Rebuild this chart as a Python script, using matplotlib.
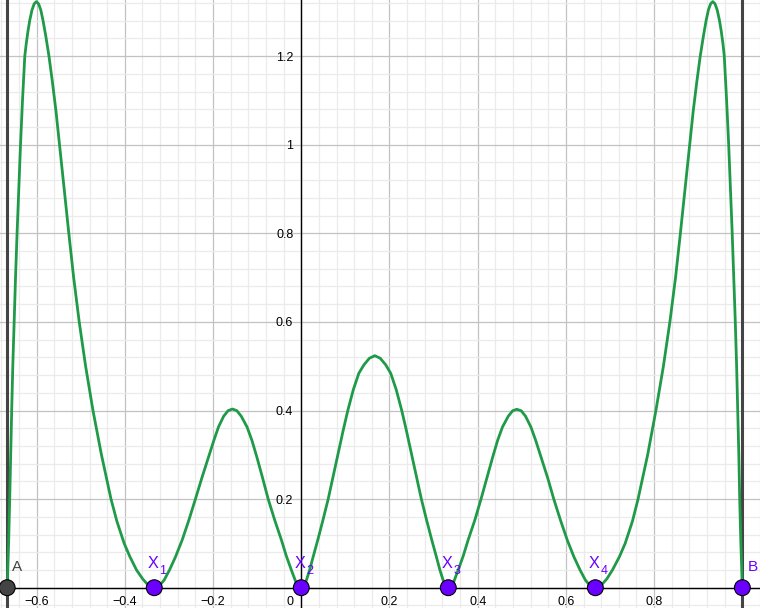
import numpy as np
import matplotlib.pyplot as plt

plt.rcParams['font.family'] = ['Liberation Sans', 'DejaVu Sans']

# points on the graph (one list per arch)
arch_a_x = [-0.6667, -0.6650, -0.6635, -0.6610, -0.6588, -0.6565, -0.6540, -0.6510, -0.6478, -0.6443,
            -0.6405, -0.6365, -0.6320, -0.6268, -0.6235, -0.6195, -0.6155, -0.6105, -0.6055, -0.6005,
            -0.5955, -0.5905, -0.5856, -0.5795, -0.5720, -0.5645, -0.5560, -0.5480, -0.5375, -0.5270,
            -0.5160, -0.5034, -0.4889, -0.4722, -0.4530, -0.4313, -0.4180, -0.4015, -0.3885, -0.3735,
            -0.3597, -0.3463, -0.3333]
arch_a_y = [0.0, 0.05, 0.10, 0.20, 0.30, 0.40, 0.50, 0.60, 0.70, 0.80,
            0.90, 1.00, 1.10, 1.20, 1.228, 1.257, 1.281, 1.304, 1.318, 1.323,
            1.318, 1.304, 1.281, 1.247, 1.20, 1.144, 1.075, 1.00, 0.90, 0.80,
            0.70, 0.60, 0.50, 0.40, 0.30, 0.20, 0.15, 0.10, 0.07, 0.04,
            0.02, 0.005, 0.0]

arch_1_x = [-0.3333, -0.322, -0.311, -0.2987, -0.285, -0.270, -0.255, -0.240, -0.225, -0.210,
            -0.198, -0.1876, -0.176, -0.166, -0.156, -0.146, -0.136, -0.123, -0.112, -0.101,
            -0.088, -0.075, -0.060, -0.045, -0.034, -0.0225, -0.011, -0.005, 0.0]
arch_1_y = [0.0, 0.004, 0.017, 0.04, 0.07, 0.1077, 0.152, 0.20, 0.249, 0.296,
            0.333, 0.363, 0.387, 0.3995, 0.4034, 0.3995, 0.387, 0.363, 0.333, 0.296,
            0.249, 0.20, 0.152, 0.1077, 0.072, 0.04, 0.0096, 0.002, 0.0]

arch_2_x = [0.0, 0.006, 0.012, 0.019, 0.027, 0.0375, 0.049, 0.061, 0.072, 0.0835,
            0.095, 0.1055, 0.118, 0.1305, 0.142, 0.1545, 0.1667, 0.179, 0.1915, 0.2028,
            0.2153, 0.2278, 0.2383, 0.2498, 0.2613, 0.2723, 0.2843, 0.2958, 0.3063, 0.3143,
            0.3213, 0.3273, 0.3333]
arch_2_y = [0.0, 0.005, 0.018, 0.04, 0.07, 0.108, 0.152, 0.20, 0.25, 0.303,
            0.355, 0.40, 0.447, 0.484, 0.503, 0.518, 0.5237, 0.518, 0.503, 0.484,
            0.447, 0.40, 0.355, 0.303, 0.25, 0.20, 0.152, 0.108, 0.07, 0.04,
            0.018, 0.005, 0.0]

arch_3_x = [0.3333, 0.3383, 0.3443, 0.3558, 0.3673, 0.3783, 0.3933, 0.4075, 0.4213, 0.4343,
            0.4453, 0.4563, 0.4693, 0.4793, 0.4885, 0.4985, 0.5085, 0.5205, 0.5313, 0.5433,
            0.5583, 0.5725, 0.5878, 0.6030, 0.6180, 0.6320, 0.6443, 0.6553, 0.6667]
arch_3_y = [0.0, 0.002, 0.0096, 0.04, 0.072, 0.1077, 0.152, 0.20, 0.249, 0.296,
            0.333, 0.363, 0.387, 0.3995, 0.4027, 0.3995, 0.387, 0.363, 0.333, 0.296,
            0.249, 0.20, 0.152, 0.1077, 0.07, 0.04, 0.017, 0.004, 0.0]

arch_b_x = [0.6667, 0.6796, 0.6928, 0.7055, 0.7213, 0.7343, 0.7508, 0.7635, 0.7853, 0.8040,
            0.8210, 0.8357, 0.8485, 0.8595, 0.8700, 0.8805, 0.8885, 0.8970, 0.9045, 0.9120,
            0.9180, 0.9230, 0.9280, 0.9330, 0.9380, 0.9430, 0.9480, 0.9520, 0.9560, 0.9590,
            0.9643, 0.9690, 0.9730, 0.9770, 0.9806, 0.9840, 0.9870, 0.9896, 0.9920, 0.9940,
            0.9966, 0.9982, 1.0]
arch_b_y = [0.0, 0.005, 0.02, 0.04, 0.07, 0.10, 0.15, 0.20, 0.30, 0.40,
            0.50, 0.60, 0.70, 0.80, 0.90, 1.00, 1.075, 1.144, 1.20, 1.247,
            1.281, 1.304, 1.318, 1.323, 1.318, 1.304, 1.281, 1.257, 1.228, 1.20,
            1.10, 1.00, 0.90, 0.80, 0.70, 0.60, 0.50, 0.40, 0.30, 0.20,
            0.10, 0.05, 0.0]

point_names = ['A', 'X', 'X', 'X', 'X', 'B']
point_subs = ['', '1', '2', '3', '4', '']
point_x = [-0.6667, -0.3333, 0.0, 0.3333, 0.6667, 1.0]

x_tick_vals = [-0.6, -0.4, -0.2, 0, 0.2, 0.4, 0.6, 0.8]
y_tick_vals = [0.2, 0.4, 0.6, 0.8, 1.0, 1.2]

purple = '#6a00ff'
grey = '#444444'
green = '#1f9a48'

curve_x = arch_a_x + arch_1_x[1:] + arch_2_x[1:] + arch_3_x[1:] + arch_b_x[1:]
curve_y = arch_a_y + arch_1_y[1:] + arch_2_y[1:] + arch_3_y[1:] + arch_b_y[1:]

fig = plt.figure(figsize=(7.6, 6.08), dpi=100)
ax = fig.add_axes([0, 0, 1, 1])
ax.set_xlim(-0.683, 1.0286)
ax.set_ylim(-0.0458, 1.3266)
for s in ax.spines.values():
    s.set_visible(False)

ax.set_xticks(np.arange(-0.6, 1.01, 0.2))
ax.set_xticks(np.arange(-0.68, 1.05, 0.04), minor=True)
ax.set_yticks(np.arange(0, 1.3, 0.2))
ax.set_yticks(np.arange(-0.04, 1.34, 0.04), minor=True)
ax.tick_params(which='both', length=0, labelbottom=False, labelleft=False)
ax.grid(which='minor', color='#ebebeb', lw=0.9)
ax.grid(which='major', color='#c2c2c2', lw=0.9)
ax.set_axisbelow(True)

ax.axhline(0, color='black', lw=1.0, zorder=2)
ax.axvline(0, color='black', lw=1.0, zorder=2)

# vertical lines through A and B
ax.axvline(point_x[0], color=grey, lw=2.2, zorder=3)
ax.axvline(point_x[-1], color=grey, lw=2.2, zorder=3)

ax.plot(curve_x, curve_y, color=green, lw=2.0, zorder=4,
        solid_joinstyle='round', solid_capstyle='round')

colors = [grey] + [purple] * 5
ax.scatter(point_x, [0] * len(point_x), s=130, c=colors, edgecolors='black',
           linewidths=0.8, zorder=5)

for i, x in enumerate(point_x):
    name, sub = point_names[i], point_subs[i]
    if sub == '':
        ax.annotate(name, (x, 0), xytext=(5, 17), textcoords='offset pixels',
                    color=colors[i], fontsize=11, ha='left', va='baseline', zorder=6)
    else:
        ax.annotate(name, (x, 0), xytext=(-7, 20), textcoords='offset pixels',
                    color=purple, fontsize=11.7, ha='left', va='baseline', zorder=6)
        ax.annotate(sub, (x, 0), xytext=(5, 14), textcoords='offset pixels',
                    color=purple, fontsize=9, ha='left', va='baseline', zorder=6)

# tick labels
for v in x_tick_vals:
    txt = '{:g}'.format(v).replace('-', '\u2212')
    if v == 0:
        ax.annotate(txt, (0, 0), xytext=(-8, -17.5), textcoords='offset pixels',
                    ha='right', va='baseline', fontsize=9)
    else:
        ax.annotate(txt, (v, 0), xytext=(0, -17.5), textcoords='offset pixels',
                    ha='center', va='baseline', fontsize=9)
for v in y_tick_vals:
    txt = '{:g}'.format(v)
    ax.annotate(txt, (0, v), xytext=(-8, -4.5), textcoords='offset pixels',
                ha='right', va='baseline', fontsize=9)

fig.savefig('out.png', dpi=100)
